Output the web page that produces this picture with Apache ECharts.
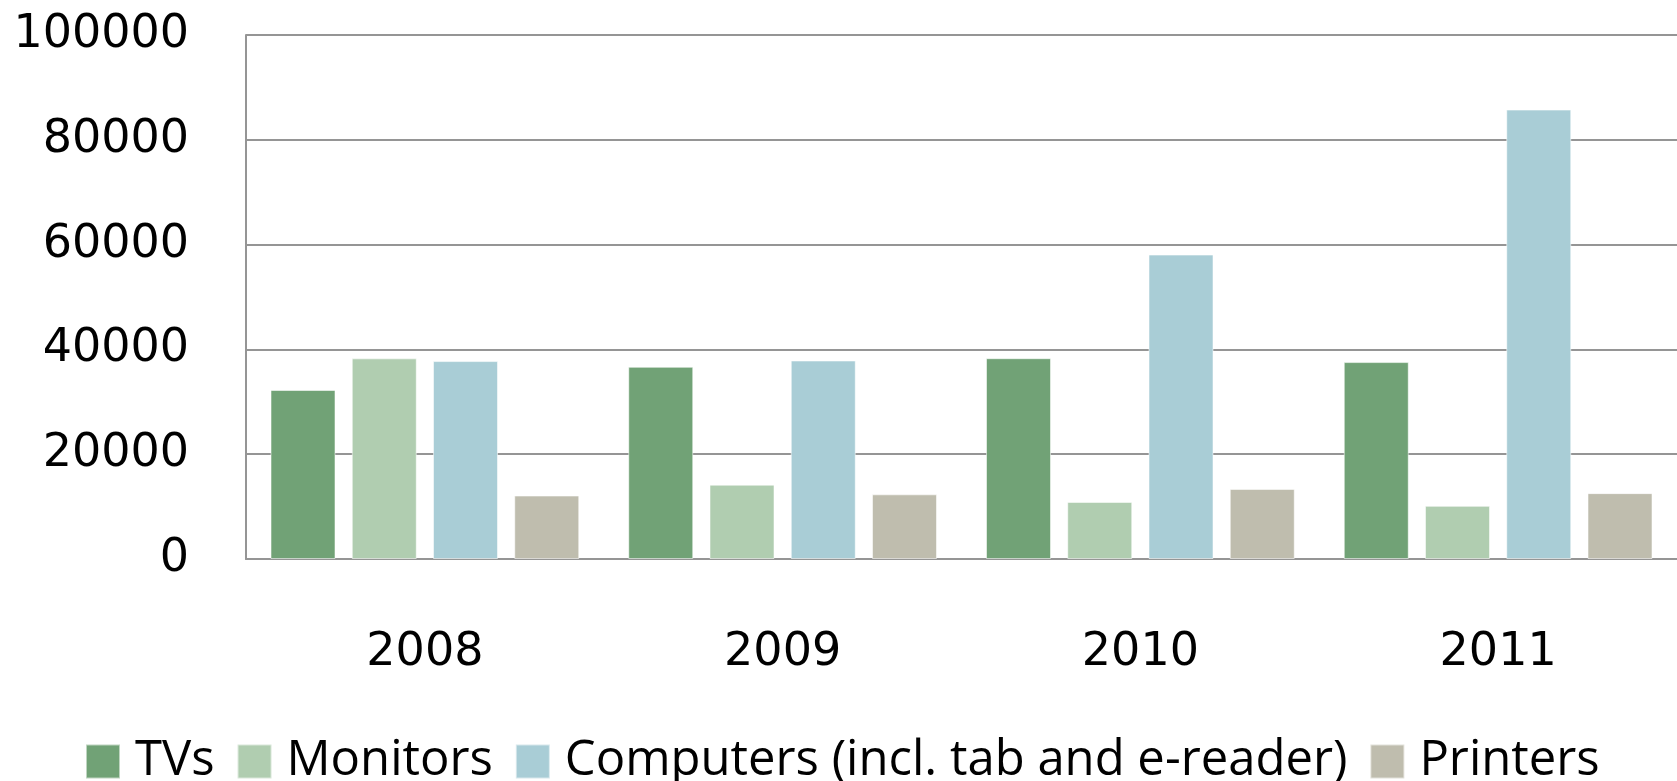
<!DOCTYPE html>
<html>
<head>
<meta charset="utf-8">
<script src="https://cdn.jsdelivr.net/npm/echarts@6/dist/echarts.min.js"></script>
<style>
  html, body { margin: 0; padding: 0; background: #fff; }
  #chart { width: 1677px; height: 781px; }
</style>
</head>
<body>
<div id="chart"></div>
<script>
const years = ['2008', '2009', '2010', '2011'];
const tvs = [32250, 36680, 38320, 37580];
const monitors = [38290, 14190, 10890, 10150];
const computers = [37770, 37880, 58100, 85770];
const printers = [12110, 12340, 13370, 12570];
const seriesNames = ['TVs', 'Monitors', 'Computers (incl. tab and e-reader)', 'Printers'];
const colors = ['#71a276', '#b0cdb0', '#a9cdd6', '#bfbdae'];

const chart = echarts.init(document.getElementById('chart'));

const font = '"Open Sans", sans-serif';
const axisFont = '"DejaVu Sans", sans-serif';
const lineColor = '#959595';

const bar = (name, data) => ({
  name: name,
  type: 'bar',
  data: data,
  barWidth: 65,
  barGap: '25%',
  itemStyle: { borderColor: 'rgba(255,255,255,0.55)', borderWidth: 1 }
});

chart.setOption({
  animation: false,
  color: colors,
  textStyle: { fontFamily: font },
  grid: { left: 246, right: -2, top: 35, bottom: 222, containLabel: false },
  legend: {
    left: 80,
    top: 732,
    itemWidth: 34,
    itemHeight: 34,
    itemGap: 22,
    icon: 'rect',
    textStyle: { fontSize: 49, color: '#000', fontFamily: font, padding: [0, 0, 0, 10] },
    data: seriesNames
  },
  xAxis: {
    type: 'category',
    data: years,
    axisLine: { lineStyle: { color: lineColor, width: 2 } },
    axisTick: { show: false },
    axisLabel: { fontSize: 46, color: '#000', margin: 71, fontFamily: axisFont }
  },
  yAxis: {
    type: 'value',
    min: 0,
    max: 100000,
    interval: 20000,
    axisLine: { show: true, lineStyle: { color: lineColor, width: 2 } },
    axisTick: { show: false },
    splitLine: { lineStyle: { color: lineColor, width: 2 } },
    axisLabel: {
      fontSize: 46, color: '#000', margin: 57, fontFamily: axisFont,
      padding: [0, 0, 16, 0],
      formatter: v => String(v)
    }
  },
  series: [
    bar(seriesNames[0], tvs),
    bar(seriesNames[1], monitors),
    bar(seriesNames[2], computers),
    bar(seriesNames[3], printers)
  ]
});
</script>
</body>
</html>
